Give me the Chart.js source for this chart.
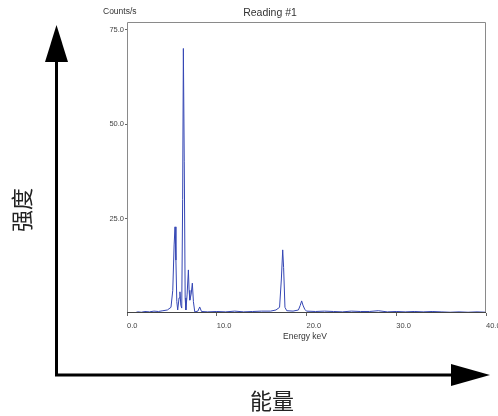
<!DOCTYPE html>
<html>
<head>
<meta charset="utf-8">
<script src="https://cdn.jsdelivr.net/npm/chart.js@4"></script>
<style>
  html, body { margin: 0; padding: 0; background: #fff; }
  #wrap { width: 498px; height: 416px; }
</style>
</head>
<body>
<div id="wrap"><canvas id="spectrum" width="498" height="416"></canvas></div>
<script>
// spectrum (energy in keV, counts per second)
const energies = [0.0, 0.8, 1.2, 1.6, 2.0, 2.5, 3.0, 3.5, 4.0, 4.5, 4.9, 5.1, 5.25, 5.35, 5.45, 5.55, 5.65, 5.8, 5.9, 6.0,
    6.1, 6.2, 6.28, 6.38, 6.48, 6.56, 6.7, 6.84, 6.92, 7.0, 7.15, 7.28, 7.4, 7.55, 7.9, 8.1, 8.3, 9.0, 10, 11,
    12, 13, 14, 15, 16, 16.6, 17.0, 17.2, 17.35, 17.45, 17.6, 17.8, 18.5, 19.1, 19.3, 19.46, 19.6, 19.8, 20.0, 21,
    22, 23, 24, 25, 26, 27, 28, 29, 30, 31, 32, 33, 34, 35, 36, 37, 38, 39, 40];
const counts = [0, 0, 0.3, 0.2, 0.4, 0.3, 0.5, 0.4, 0.6, 0.8, 1.5, 6, 18, 22.8, 14, 3, 0.8, 4, 5.6, 2,
    1.3, 30, 70, 40, 4, 0.8, 5, 11.4, 6, 3.4, 5, 7.9, 3, 0.3, 0.5, 1.6, 0.4, 0.3, 0.4, 0.3,
    0.5, 0.3, 0.4, 0.5, 0.5, 0.8, 1.5, 9, 16.7, 12, 1.5, 0.6, 0.5, 0.8, 2, 3.2, 2.1, 1.0, 0.5, 0.4,
    0.5, 0.4, 0.3, 0.5, 0.4, 0.4, 0.6, 0.3, 0.4, 0.3, 0.4, 0.3, 0.4, 0.3, 0.2, 0.3, 0.2, 0.3, 0.2];
const xTicks = [0, 10, 20, 30, 40];
const yTicks = [25, 50, 75];

const points = energies.map((e, i) => ({ x: e, y: counts[i] }));

// frame, labels and the two big arrows around the plot
const decorations = {
    id: 'decorations',
    afterDraw(chart) {
        const c = chart.ctx;
        const a = chart.chartArea;
        c.save();

        // plot frame
        c.lineWidth = 1;
        c.strokeStyle = '#8a8a8a';
        c.beginPath();
        c.moveTo(a.left + 0.5, a.bottom);
        c.lineTo(a.left + 0.5, a.top + 0.5);
        c.lineTo(a.right - 0.5, a.top + 0.5);
        c.lineTo(a.right - 0.5, a.bottom);
        c.stroke();
        c.strokeStyle = '#444';
        c.beginPath();
        c.moveTo(a.left, a.bottom - 0.5);
        c.lineTo(a.right, a.bottom - 0.5);
        c.stroke();

        // texts
        c.fillStyle = '#333';
        c.textBaseline = 'middle';
        c.textAlign = 'left';
        c.font = '8.5px "Liberation Sans", Arial, sans-serif';
        c.fillText('Counts/s', 103, 12);
        c.textAlign = 'center';
        c.fillText('Energy keV', 305, 337);
        c.font = '10.5px "Liberation Sans", Arial, sans-serif';
        c.fillText('Reading #1', 270, 13);

        c.fillStyle = '#222';
        c.font = '22px "Noto Sans CJK SC", sans-serif';
        c.fillText('能量', 272, 401);
        c.save();
        c.translate(22, 210);
        c.rotate(-Math.PI / 2);
        c.fillText('强度', 0, 0);
        c.restore();

        // arrows
        c.strokeStyle = '#000';
        c.fillStyle = '#000';
        c.lineWidth = 3;
        c.beginPath();
        c.moveTo(56.5, 60);
        c.lineTo(56.5, 375);
        c.lineTo(455, 375);
        c.stroke();
        c.beginPath();
        c.moveTo(56.5, 25);
        c.lineTo(45, 62);
        c.lineTo(68, 62);
        c.closePath();
        c.fill();
        c.beginPath();
        c.moveTo(490, 375);
        c.lineTo(451, 364);
        c.lineTo(451, 386);
        c.closePath();
        c.fill();

        c.restore();
    }
};

new Chart(document.getElementById('spectrum').getContext('2d'), {
    type: 'line',
    data: {
        datasets: [{
            label: 'Reading #1',
            data: points,
            borderColor: '#3446b4',
            borderWidth: 1,
            pointRadius: 0,
            tension: 0,
            fill: false,
        }],
    },
    options: {
        responsive: false,
        animation: false,
        layout: { padding: { top: 22, right: 12, left: 0, bottom: 0 } },
        plugins: {
            legend: { display: false },
            title: { display: false },
            tooltip: { enabled: false },
        },
        scales: {
            x: {
                type: 'linear',
                min: 0,
                max: 40,
                afterFit(scale) {
                    scale.height = 103;
                    scale.paddingLeft = 0;
                    scale.paddingRight = 0;
                },
                afterBuildTicks(scale) { scale.ticks = xTicks.map(v => ({ value: v })); },
                border: { display: false },
                grid: { drawOnChartArea: false, tickLength: 3, color: '#666' },
                ticks: {
                    align: 'start',
                    padding: 5,
                    maxRotation: 0,
                    color: '#444',
                    font: { family: '"Liberation Sans", Arial, sans-serif', size: 7.5 },
                    callback: v => v.toFixed(1),
                },
            },
            y: {
                min: 0,
                max: 77,
                afterFit(scale) {
                    scale.width = 127;
                    scale.paddingTop = 0;
                    scale.paddingBottom = 0;
                },
                afterBuildTicks(scale) { scale.ticks = yTicks.map(v => ({ value: v })); },
                border: { display: false },
                grid: { drawOnChartArea: false, tickLength: 2, color: '#666' },
                ticks: {
                    padding: 1,
                    color: '#444',
                    font: { family: '"Liberation Sans", Arial, sans-serif', size: 7.5 },
                    callback: v => v.toFixed(1),
                },
            },
        },
    },
    plugins: [decorations],
});
</script>
</body>
</html>
